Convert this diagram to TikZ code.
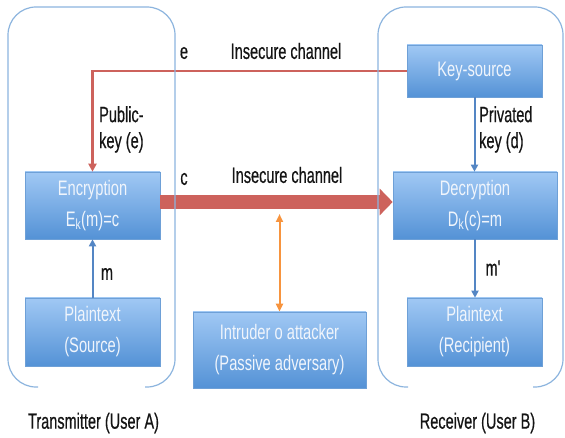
\documentclass[tikz,border=0pt]{standalone}
\usepackage{fontspec}
\setmainfont{Liberation Sans}
\newfontfamily\boxfont[FakeStretch=0.70]{Liberation Sans}
\newfontfamily\labfont[FakeStretch=0.66,FakeBold=0.5]{Liberation Sans}
\usetikzlibrary{arrows.meta}
\definecolor{redline}{RGB}{205,98,92}
\definecolor{blueline}{RGB}{84,134,196}
\definecolor{orangeline}{RGB}{247,148,62}
\definecolor{contline}{RGB}{140,180,222}
\definecolor{boxtop}{RGB}{160,200,244}
\definecolor{boxbot}{RGB}{84,146,214}
\definecolor{boxedge}{RGB}{110,160,215}
\definecolor{boxtext}{RGB}{240,245,252}
\definecolor{labtext}{RGB}{20,20,20}
\tikzset{
  bluebox/.style={draw=boxedge, line width=0.6pt, top color=boxtop, bottom color=boxbot,
    inner sep=0pt, align=center, text=boxtext,
    font=\boxfont\fontsize{21}{31}\selectfont},
  lab/.style={text=labtext, inner sep=0pt, font=\labfont\fontsize{22}{26}\selectfont},
  container/.style={draw=contline, line width=1.2pt, rounded corners=28pt},
  bluearrow/.style={draw=blueline, line width=2pt, -{Triangle[length=7pt,width=7pt]}},
}
\begin{document}
\begin{tikzpicture}[x=1pt,y=-1pt]
\useasboundingbox (0,0) rectangle (565,438);

% boxes
\node[bluebox, minimum width=135pt, minimum height=67pt] (enc) at (92.5,205.5) {Encryption\\E\textsubscript{k}(m)=c};
\node[bluebox, minimum width=135pt, minimum height=68pt] (src) at (92.5,332) {Plaintext\\(Source)};
\node[bluebox, minimum width=135pt, minimum height=52pt] (key) at (474.5,71) {Key-source};
\node[bluebox, minimum width=164pt, minimum height=67pt] (dec) at (475,205.5) {Decryption\\D\textsubscript{k}(c)=m};
\node[bluebox, minimum width=135pt, minimum height=68pt] (rec) at (474.5,332) {Plaintext\\(Recipient)};
\node[bluebox, minimum width=173pt, minimum height=76pt] (intr) at (279.5,350) {Intruder o attacker\\(Passive adversary)};

% connectors
\draw[redline, line width=2.5pt, -{Triangle[length=8pt,width=8pt]}] (key.west) -| (enc.north);
\draw[redline, line width=14pt, -{Triangle[length=13pt,width=26pt]}] ([yshift=3.5pt]enc.east) -- ([yshift=3.5pt]dec.west);
\coordinate (ot) at (279.5,214);
\draw[orangeline, line width=2pt, {Triangle[length=8pt,width=7pt]}-{Triangle[length=8pt,width=7pt]}] (ot) -- (intr.north);
\draw[bluearrow] (src.north) -- (enc.south);
\draw[bluearrow] (key.south) -- (key.south |- dec.north);
\draw[bluearrow] (dec.south) -- (dec.south |- rec.north);

% containers
\draw[container] (38,387) -- (8,387) -- (8,7) -- (175,7) -- (175,387) -- (145,387);
\draw[container] (408,387) -- (378,387) -- (378,7) -- (563,7) -- (563,387) -- (533,387);

% labels
\node[lab] (le) at (184,53) {e};
\node[lab] (lic1) at (286,51) {Insecure channel};
\node[lab, align=left, anchor=north west] (lpk) at (99,106) {Public-\\key (e)};
\node[lab] (lc) at (184,179) {c};
\node[lab] (lic2) at (287,175) {Insecure channel};
\node[lab, align=left, anchor=north west] (lpd) at (479,106) {Privated\\key (d)};
\node[lab] (lm) at (107,274) {m};
\node[lab] (lmp) at (493,268) {m'};
\node[lab] (lta) at (93.5,423) {Transmitter (User A)};
\node[lab] (lrb) at (477.5,423) {Receiver (User B)};
\end{tikzpicture}
\end{document}
